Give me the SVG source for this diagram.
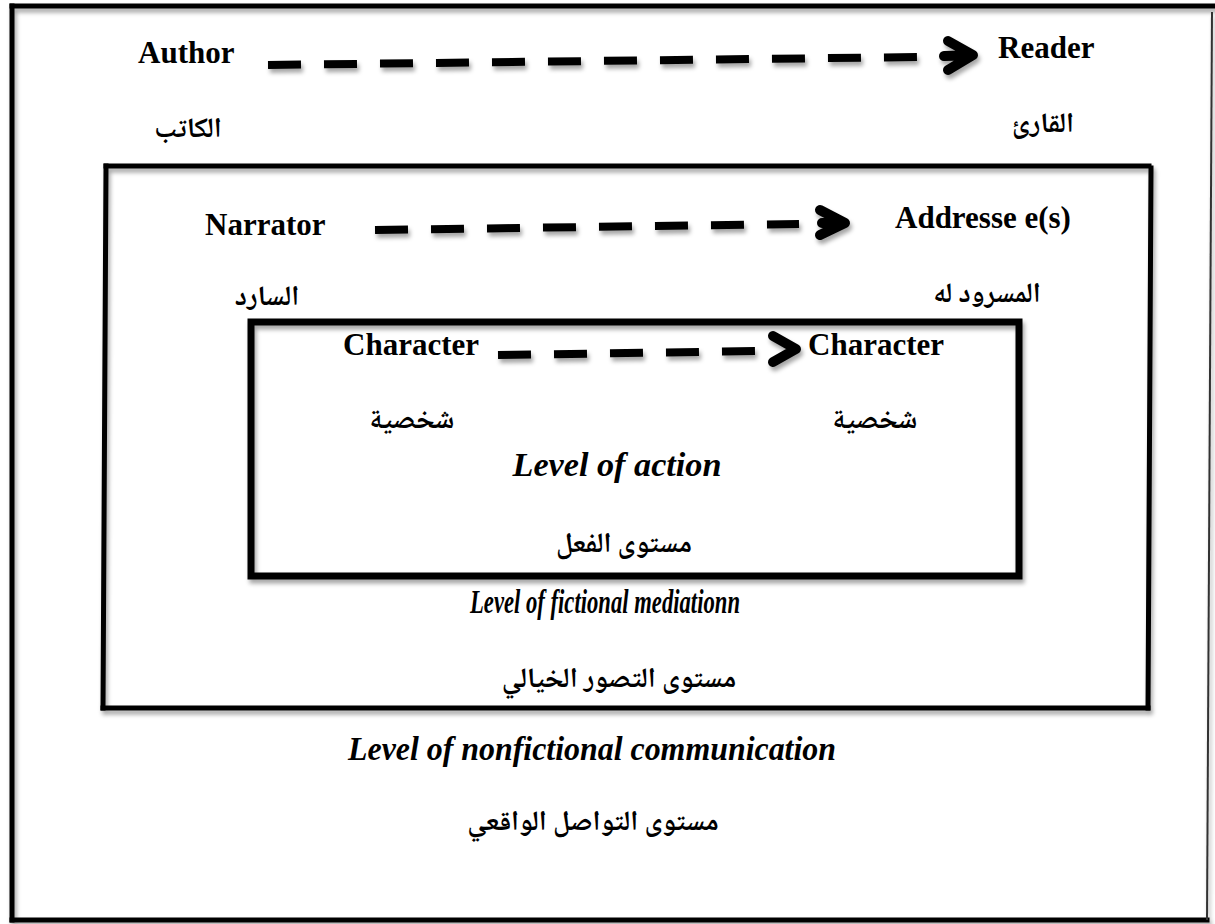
<svg xmlns="http://www.w3.org/2000/svg" width="1215" height="924" viewBox="0 0 1215 924">
<defs>
<filter id="sh" x="-5%" y="-5%" width="110%" height="120%">
<feDropShadow dx="2" dy="4" stdDeviation="2" flood-color="#000" flood-opacity="0.35"/>
</filter>
<style>
.frame{fill:none;stroke:#000;stroke-linecap:square}
.en{font-family:"Liberation Serif","Times New Roman",serif;font-weight:bold;font-size:31px;fill:#000}
.it{font-family:"Liberation Serif","Times New Roman",serif;font-weight:bold;font-style:italic;font-size:34px;fill:#000;text-anchor:middle}
.ar{font-family:"Noto Naskh Arabic","Noto Sans Arabic","DejaVu Sans",sans-serif;font-weight:bold;font-size:28px;fill:#000;text-anchor:middle}
.dash{fill:none;stroke:#000;stroke-width:8;stroke-dasharray:33 23}
.head{fill:none;stroke:#000;stroke-width:10;stroke-linecap:round;stroke-linejoin:round}
</style>
</defs>
<rect width="1215" height="924" fill="#fff"/>

<g id="outer-frame" filter="url(#sh)">
<line class="frame" x1="12" y1="6" x2="1215" y2="6" stroke-width="5"/>
<line class="frame" x1="12" y1="6" x2="12" y2="920" stroke-width="5"/>
<line class="frame" x1="12" y1="920" x2="1207" y2="920" stroke-width="5"/>
<line x1="1212" y1="12" x2="1207" y2="920" stroke="#333" stroke-width="2"/>
</g>

<g id="middle-frame" filter="url(#sh)">
<line class="frame" x1="106" y1="166" x2="1149" y2="166" stroke-width="5"/>
<line class="frame" x1="106" y1="166" x2="103" y2="708" stroke-width="5"/>
<line class="frame" x1="103" y1="708" x2="1148" y2="708" stroke-width="5"/>
<line class="frame" x1="1151" y1="168" x2="1148" y2="708" stroke-width="5"/>
</g>

<g id="inner-frame" filter="url(#sh)">
<rect x="251" y="322" width="768" height="254" fill="none" stroke="#000" stroke-width="7"/>
</g>

<g id="connectors" filter="url(#sh)">
<line class="dash" x1="268" y1="65" x2="918" y2="57"/>
<path class="head" d="M944 56 L962 55.5 M948 41 L973 55 L948 70"/>
<line class="dash" x1="375" y1="230" x2="799" y2="224"/>
<path class="head" d="M822 223 L838 223 M820 210 L845 223 L820 235"/>
<line class="dash" x1="498" y1="355" x2="758" y2="351"/>
<path class="head" d="M773 336 L796 349 L773 362"/>
</g>

<g id="node-author">
<text class="en" x="138" y="63">Author</text>
<text class="ar" x="188" y="137">الكاتب</text>
</g>
<g id="node-reader">
<text class="en" x="998" y="58">Reader</text>
<text class="ar" x="1043" y="132">القارئ</text>
</g>
<g id="node-narrator">
<text class="en" x="205" y="235">Narrator</text>
<text class="ar" x="267" y="305">السارد</text>
</g>
<g id="node-addressee">
<text class="en" x="895" y="228">Addresse e(s)</text>
<text class="ar" x="987" y="302">المسرود له</text>
</g>
<g id="node-character-left">
<text class="en" x="343" y="355">Character</text>
<text class="ar" x="412" y="428">شخصية</text>
</g>
<g id="node-character-right">
<text class="en" x="808" y="355">Character</text>
<text class="ar" x="875" y="428">شخصية</text>
</g>
<g id="level-action">
<text class="it" x="617" y="476" textLength="209" lengthAdjust="spacingAndGlyphs">Level of action</text>
<text class="ar" x="624" y="552">مستوى الفعل</text>
</g>
<g id="level-fictional">
<text class="it" x="605" y="613" textLength="270" lengthAdjust="spacingAndGlyphs">Level of fictional mediationn</text>
<text class="ar" x="619" y="687">مستوى التصور الخيالي</text>
</g>
<g id="level-nonfictional">
<text class="it" x="592" y="760" textLength="488" lengthAdjust="spacingAndGlyphs">Level of nonfictional communication</text>
<text class="ar" x="593" y="830">مستوى التواصل الواقعي</text>
</g>
</svg>
